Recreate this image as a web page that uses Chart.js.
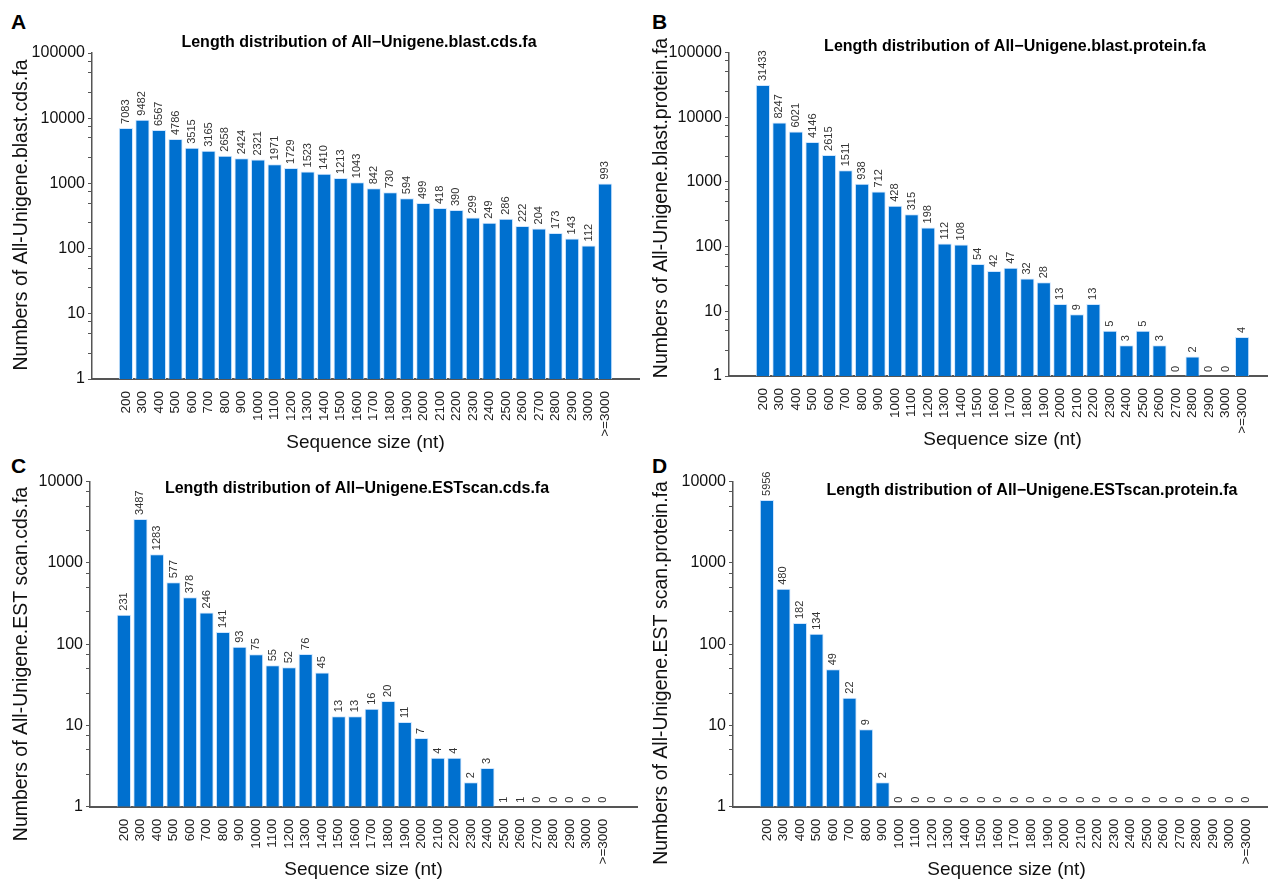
<!DOCTYPE html>
<html>
<head>
<meta charset="utf-8">
<script src="https://cdn.jsdelivr.net/npm/chart.js@4.4.1/dist/chart.umd.min.js"></script>
<style>
    html, body { margin: 0; padding: 0; background: #fff; width: 1268px; height: 882px; overflow: hidden; }
    .panel { position: absolute; }
    .letter { position: absolute; font: bold 21px "Liberation Sans", Arial, sans-serif; color: #000; }
</style>
</head>
<body>
<div class="letter" style="left:11px; top:10px;">A</div>
<div class="letter" style="left:652px; top:10px;">B</div>
<div class="letter" style="left:11px; top:454px;">C</div>
<div class="letter" style="left:652px; top:454px;">D</div>
<canvas id="chart-a" class="panel"></canvas>
<canvas id="chart-b" class="panel"></canvas>
<canvas id="chart-c" class="panel"></canvas>
<canvas id="chart-d" class="panel"></canvas>
<script>
// Data
const sizes = ['200', '300', '400', '500', '600', '700', '800', '900', '1000', '1100',
    '1200', '1300', '1400', '1500', '1600', '1700', '1800', '1900', '2000', '2100',
    '2200', '2300', '2400', '2500', '2600', '2700', '2800', '2900', '3000', '>=3000'];

const blastCds = [7083, 9482, 6567, 4786, 3515, 3165, 2658, 2424, 2321, 1971,
    1729, 1523, 1410, 1213, 1043, 842, 730, 594, 499, 418,
    390, 299, 249, 286, 222, 204, 173, 143, 112, 993];

const blastProtein = [31433, 8247, 6021, 4146, 2615, 1511, 938, 712, 428, 315,
    198, 112, 108, 54, 42, 47, 32, 28, 13, 9,
    13, 5, 3, 5, 3, 0, 2, 0, 0, 4];

const estCds = [231, 3487, 1283, 577, 378, 246, 141, 93, 75, 55,
    52, 76, 45, 13, 13, 16, 20, 11, 7, 4,
    4, 2, 3, 1, 1, 0, 0, 0, 0, 0];

const estProtein = [5956, 480, 182, 134, 49, 22, 9, 2, 0, 0,
    0, 0, 0, 0, 0, 0, 0, 0, 0, 0,
    0, 0, 0, 0, 0, 0, 0, 0, 0, 0];

const BAR_BLUE = '#0070cf';
const AXIS_GREY = '#555';
const FONT = '"Liberation Sans", Arial, sans-serif';

// Value labels, rotated, above each bar
const valueLabels = {
    id: 'valueLabels',
    afterDatasetsDraw(chart) {
        const ctx = chart.ctx;
        const meta = chart.getDatasetMeta(0);
        const values = chart.data.datasets[0].data;
        ctx.save();
        ctx.fillStyle = '#333';
        ctx.font = '11px ' + FONT;
        ctx.textAlign = 'left';
        ctx.textBaseline = 'middle';
        meta.data.forEach((bar, i) => {
            ctx.save();
            ctx.translate(bar.x, bar.y - 4);
            ctx.rotate(-Math.PI / 2);
            ctx.fillText(String(values[i].y), 0, 0);
            ctx.restore();
        });
        ctx.restore();
    }
};

// Bold panel title + rotated y title at fixed spots in the canvas
const panelText = {
    id: 'panelText',
    afterDraw(chart, args, opts) {
        const ctx = chart.ctx;
        ctx.save();
        ctx.fillStyle = '#000';
        ctx.font = 'bold 16px ' + FONT;
        ctx.textAlign = 'center';
        ctx.textBaseline = 'middle';
        ctx.fillText(opts.text, opts.x, opts.y);

        ctx.fillStyle = '#111';
        ctx.font = '19.5px ' + FONT;
        ctx.translate(opts.yTitleX, opts.yTitleY);
        ctx.rotate(-Math.PI / 2);
        ctx.fillText(opts.yTitle, 0, 0);
        ctx.restore();
    }
};

function logTicks(max) {
    const ticks = [];
    for (let d = 1; d <= max; d *= 10) {
        ticks.push({ value: d });
        if (d < max) [2.5, 5, 7.5].forEach(m => ticks.push({ value: d * m }));
    }
    return ticks;
}

function makeChart(id, box, values, yTitle, title, yMax) {
    const canvas = document.getElementById(id);
    canvas.style.left = box.left + 'px';
    canvas.style.top = box.top + 'px';
    canvas.style.width = box.w + 'px';
    canvas.style.height = box.h + 'px';
    canvas.width = box.w;
    canvas.height = box.h;

    return new Chart(canvas, {
        type: 'bar',
        data: {
            datasets: [{
                data: values.map((v, i) => ({ x: i, y: v })),
                backgroundColor: BAR_BLUE,
                borderColor: '#cfe6ff',
                borderWidth: 1,
                categoryPercentage: 1,
                barPercentage: 0.86
            }]
        },
        options: {
            responsive: false,
            animation: false,
            events: [],
            layout: { padding: { top: box.area.t, right: box.w - box.area.r, left: 0, bottom: 0 } },
            plugins: {
                legend: { display: false },
                tooltip: { enabled: false },
                panelText: {
                    text: title, x: box.titleX, y: box.titleY,
                    yTitle: yTitle, yTitleX: 22, yTitleY: box.yTitleY
                }
            },
            scales: {
                x: {
                    type: 'linear',
                    min: -1.5,
                    max: 30.5,
                    afterFit: s => { s.height = box.h - box.area.b; },
                    afterBuildTicks: s => { s.ticks = sizes.map((c, i) => ({ value: i })); },
                    ticks: {
                        autoSkip: false,
                        maxRotation: 90,
                        minRotation: 90,
                        padding: 4,
                        color: '#222',
                        font: { family: FONT, size: 13.5 },
                        callback: v => sizes[v]
                    },
                    grid: { display: false },
                    border: { display: true, color: AXIS_GREY, width: 2 },
                    title: {
                        display: true,
                        text: 'Sequence size (nt)',
                        color: '#111',
                        font: { family: FONT, size: 19, lineHeight: 1.2 },
                        padding: { top: 0, bottom: box.xTitlePad }
                    }
                },
                y: {
                    type: 'logarithmic',
                    min: 1,
                    max: yMax,
                    afterFit: s => { s.width = box.area.l; },
                    afterBuildTicks: s => { s.ticks = logTicks(yMax); },
                    ticks: {
                        autoSkip: false,
                        padding: 3,
                        color: '#111',
                        font: { family: FONT, size: 16 },
                        callback: v => {
                            const l = Math.log10(v);
                            return Math.abs(l - Math.round(l)) < 1e-9 ? String(Math.round(v)) : '';
                        }
                    },
                    grid: { drawOnChartArea: false, drawTicks: true, tickLength: 4, color: AXIS_GREY },
                    border: { display: true, color: AXIS_GREY, width: 1.5 },
                    title: { display: false }
                }
            }
        },
        plugins: [valueLabels, panelText]
    });
}

makeChart('chart-a',
    { left: 0, top: 0, w: 640, h: 454, area: { l: 92, t: 53, r: 639, b: 379 },
      titleX: 359, titleY: 43, xTitlePad: 0, yTitleY: 215 },
    blastCds, 'Numbers of All-Unigene.blast.cds.fa',
    'Length distribution of All\u2212Unigene.blast.cds.fa', 100000);

makeChart('chart-b',
    { left: 640, top: 0, w: 640, h: 454, area: { l: 89, t: 52.5, r: 636, b: 376 },
      titleX: 375, titleY: 47, xTitlePad: 3, yTitleY: 208 },
    blastProtein, 'Numbers of All-Unigene.blast.protein.fa',
    'Length distribution of All\u2212Unigene.blast.protein.fa', 100000);

makeChart('chart-c',
    { left: 0, top: 440, w: 640, h: 442, area: { l: 90, t: 41.7, r: 637, b: 366.7 },
      titleX: 357, titleY: 49, xTitlePad: 1, yTitleY: 224 },
    estCds, 'Numbers of All-Unigene.EST scan.cds.fa',
    'Length distribution of All\u2212Unigene.ESTscan.cds.fa', 10000);

makeChart('chart-d',
    { left: 640, top: 440, w: 640, h: 442, area: { l: 93, t: 41.7, r: 640, b: 366.7 },
      titleX: 392, titleY: 51, xTitlePad: 1, yTitleY: 233 },
    estProtein, 'Numbers of All-Unigene.EST scan.protein.fa',
    'Length distribution of All\u2212Unigene.ESTscan.protein.fa', 10000);
</script>
</body>
</html>
